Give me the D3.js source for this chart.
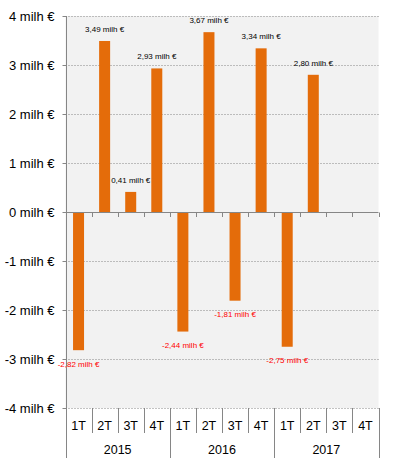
<!DOCTYPE html>
<html><head><meta charset="utf-8">
<script src="https://cdn.jsdelivr.net/npm/d3@7"></script>
<style>body{margin:0;background:#fff}svg{display:block}text{font-family:"Liberation Sans",Arial,sans-serif}</style>
</head><body>
<svg id="c" width="393" height="471"></svg>
<script>
const years = ["2015","2016","2017"];
const quarters = ["1T","2T","3T","4T"];
const values = [-2.82, 3.49, 0.41, 2.93, -2.44, 3.67, -1.81, 3.34, -2.75, 2.80, null, null];
const yTicks = [-4,-3,-2,-1,0,1,2,3,4];

const svg = d3.select("#c");
const L = 65.5, R = 378.5, T = 16, B = 408;
const cats = [];
years.forEach(y => quarters.forEach(q => cats.push(y + "-" + q)));
const x = d3.scaleBand().domain(cats).range([L, R]).paddingInner(0).paddingOuter(0);
const y = d3.scaleLinear().domain([-4, 4]).range([B, T]);
const fmt = v => v.toFixed(2).replace(".", ",") + " milh €";
const grey = "#868686";

svg.append("rect").attr("x", L).attr("y", T).attr("width", R - L).attr("height", B - T).attr("fill", "#f2f2f2");

// gridlines
svg.append("g").selectAll("line").data(yTicks.filter(d => d !== 0)).join("line")
  .attr("x1", L).attr("x2", R).attr("y1", d => Math.round(y(d)) + 0.5).attr("y2", d => Math.round(y(d)) + 0.5)
  .attr("stroke", grey).attr("stroke-dasharray", "1,2");

// bars
const data = values.map((v, i) => ({cat: cats[i], v}));
const bw = 11;
svg.append("g").selectAll("rect").data(data.filter(d => d.v !== null)).join("rect")
  .attr("x", d => x(d.cat) + x.bandwidth() / 2 - bw / 2)
  .attr("y", d => y(Math.max(0, d.v)))
  .attr("width", bw)
  .attr("height", d => Math.abs(y(d.v) - y(0)))
  .attr("fill", "#e46c0a");

// zero axis
const y0 = Math.round(y(0)) + 0.5;
svg.append("line").attr("x1", L).attr("x2", R).attr("y1", y0).attr("y2", y0).attr("stroke", grey);
svg.append("g").selectAll("line").data(cats.slice(1).map(c => x(c)).concat([R])).join("line")
  .attr("x1", d => Math.round(d) + 0.5).attr("x2", d => Math.round(d) + 0.5)
  .attr("y1", y0).attr("y2", y0 + 4.5).attr("stroke", grey);

// left axis
const yAxis = d3.axisLeft(y).tickValues(yTicks).tickSize(4).tickPadding(8).tickFormat(d => d + " milh €");
const ga = svg.append("g").attr("transform", `translate(${Math.round(L) + 0.5},0)`).call(yAxis);
ga.select(".domain").remove();
ga.selectAll(".tick line").attr("stroke", grey);
ga.selectAll(".tick text").attr("font-size", 13).attr("fill", "#000").attr("font-family", '"Liberation Sans",Arial,sans-serif');
svg.append("line").attr("x1", Math.round(L) + 0.5).attr("x2", Math.round(L) + 0.5).attr("y1", T).attr("y2", 458).attr("stroke", grey);

// category axis
const bounds = cats.map(c => x(c)).concat([R]);
svg.append("g").selectAll("line").data(bounds.slice(1)).join("line")
  .attr("x1", d => Math.round(d) + 0.5).attr("x2", d => Math.round(d) + 0.5)
  .attr("y1", B).attr("y2", (d, i) => ((i + 1) % 4 === 0) ? 458 : 433).attr("stroke", grey);
svg.append("g").selectAll("text").data(cats).join("text")
  .attr("x", d => x(d) + x.bandwidth() / 2).attr("y", 429.5)
  .attr("text-anchor", "middle").attr("font-size", 12.5).text(d => d.split("-")[1]);
svg.append("g").selectAll("text").data(years).join("text")
  .attr("x", d => x(d + "-1T") + x.bandwidth() * 2).attr("y", 453.5)
  .attr("text-anchor", "middle").attr("font-size", 12.5).text(d => d);

// value labels
svg.append("g").selectAll("text").data(data.filter(d => d.v !== null)).join("text")
  .attr("x", d => x(d.cat) + x.bandwidth() / 2)
  .attr("y", d => d.v >= 0 ? y(d.v) - 9 : y(d.v) + 16.5)
  .attr("text-anchor", "middle").attr("font-size", 8)
  .attr("fill", d => d.v >= 0 ? "#000" : "#ff0000")
  .text(d => fmt(d.v));
</script>
</body></html>
